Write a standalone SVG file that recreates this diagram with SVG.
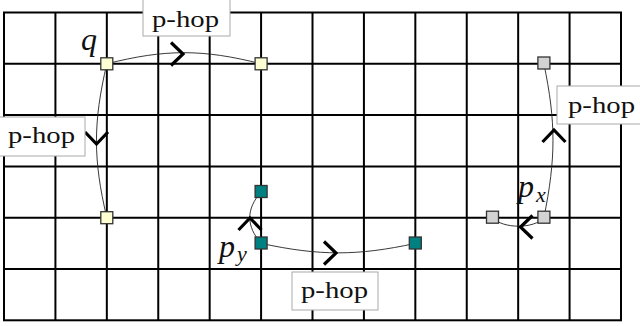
<svg xmlns="http://www.w3.org/2000/svg" xmlns:xlink="http://www.w3.org/1999/xlink" width="640" height="326" viewBox="0 0 640 326">
<style>
.grid line, .grid rect { stroke: #000; stroke-width: 2; fill: none; }
.conn path { fill: none; stroke: #222; stroke-width: 0.9; }
.chev { fill: none; stroke: #000; stroke-width: 3.2; stroke-linejoin: miter; }
.node { stroke: #333; stroke-width: 1.3; }
.yel { fill: #ffffd4; }
.gry { fill: #d3d3d3; }
.teal { fill: #008080; }
.lbl rect { fill: #fff; stroke: #aaa; stroke-width: 1; }
.lbl text { font-family: "Liberation Serif", "Times New Roman", serif; font-size: 23px; fill: #111; }
.math { font-family: "Liberation Serif", "Times New Roman", serif; font-style: italic; fill: #111; }
</style>
<defs>
<path id="chev" class="chev" d="M-12,-11.5 L0,0 L-12,11.5"/>
</defs>
<rect width="640" height="326" fill="#fff"/>
<g class="grid">
<rect x="4" y="12.5" width="617" height="307.8"/>
<line x1="55.42" y1="12.5" x2="55.42" y2="320.3"/>
<line x1="106.83" y1="12.5" x2="106.83" y2="320.3"/>
<line x1="158.25" y1="12.5" x2="158.25" y2="320.3"/>
<line x1="209.67" y1="12.5" x2="209.67" y2="320.3"/>
<line x1="261.08" y1="12.5" x2="261.08" y2="320.3"/>
<line x1="312.5" y1="12.5" x2="312.5" y2="320.3"/>
<line x1="363.92" y1="12.5" x2="363.92" y2="320.3"/>
<line x1="415.33" y1="12.5" x2="415.33" y2="320.3"/>
<line x1="466.75" y1="12.5" x2="466.75" y2="320.3"/>
<line x1="518.17" y1="12.5" x2="518.17" y2="320.3"/>
<line x1="569.58" y1="12.5" x2="569.58" y2="320.3"/>
<line x1="4" y1="63.8" x2="621" y2="63.8"/>
<line x1="4" y1="115.1" x2="621" y2="115.1"/>
<line x1="4" y1="166.4" x2="621" y2="166.4"/>
<line x1="4" y1="217.7" x2="621" y2="217.7"/>
<line x1="4" y1="269" x2="621" y2="269"/>
</g>
<g id="connectors" class="conn">
<path d="M106.8,63.8 C165,49 203,49 261.1,63.8"/>
<path d="M106.8,63.8 C93,123 93,159 106.8,217.7"/>
<path d="M543.9,217.7 C556,158 556,122 543.9,63.8"/>
<path d="M543.9,217.7 C534,229 503,229 492.5,217.7"/>
<path d="M261.1,243.4 C246,226 246,209 261.1,192"/>
<path d="M261.1,243.4 C320,256 357,256 415.3,243.4"/>
<use xlink:href="#chev" transform="translate(183,54)"/>
<use xlink:href="#chev" transform="translate(96.5,144) rotate(90)"/>
<use xlink:href="#chev" transform="translate(554,130) rotate(-90)"/>
<use xlink:href="#chev" transform="translate(520.5,227) rotate(180)"/>
<use xlink:href="#chev" transform="translate(250,218) rotate(-90)"/>
<use xlink:href="#chev" transform="translate(336,253)"/>
</g>
<g id="q"><rect class="node yel" x="100.8" y="57.8" width="12" height="12"/></g>
<g id="n2"><rect class="node yel" x="255.1" y="57.8" width="12" height="12"/></g>
<g id="n3"><rect class="node yel" x="100.8" y="211.7" width="12" height="12"/></g>
<g id="g1"><rect class="node gry" x="537.9" y="57" width="12" height="12"/></g>
<g id="px"><rect class="node gry" x="537.9" y="211.2" width="12" height="12"/></g>
<g id="g3"><rect class="node gry" x="486.5" y="211.2" width="12" height="12"/></g>
<g id="t1"><rect class="node teal" x="255.1" y="185.5" width="12" height="12"/></g>
<g id="py"><rect class="node teal" x="255.1" y="237" width="12" height="12"/></g>
<g id="t3"><rect class="node teal" x="409.3" y="237" width="12" height="12"/></g>
<g class="math">
<text x="81" y="50" font-size="32">q</text>
<text x="219" y="257" font-size="32">p</text>
<text x="237" y="261" font-size="22">y</text>
<text x="518" y="197" font-size="32">p</text>
<text x="536" y="201.5" font-size="22">x</text>
</g>
<g id="lbl-top" class="lbl"><rect x="143" y="-3" width="87" height="39"/><text x="152" y="27" textLength="67" lengthAdjust="spacingAndGlyphs">p-hop</text></g>
<g id="lbl-left" class="lbl"><rect x="-2" y="117" width="87" height="39"/><text x="8" y="143" textLength="67" lengthAdjust="spacingAndGlyphs">p-hop</text></g>
<g id="lbl-right" class="lbl"><rect x="557" y="86" width="87" height="38"/><text x="568" y="113" textLength="67" lengthAdjust="spacingAndGlyphs">p-hop</text></g>
<g id="lbl-bottom" class="lbl"><rect x="292" y="272" width="86" height="38"/><text x="301" y="298" textLength="67" lengthAdjust="spacingAndGlyphs">p-hop</text></g>
</svg>
